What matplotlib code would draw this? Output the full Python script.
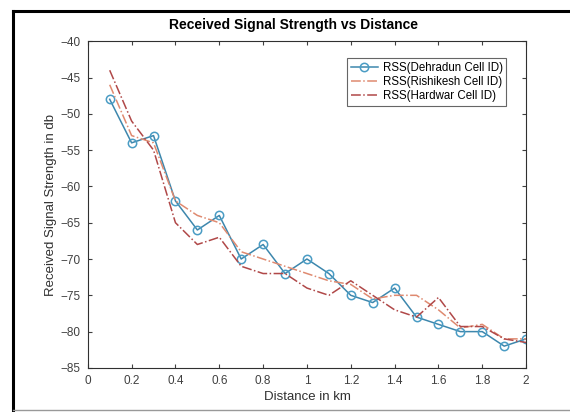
import matplotlib
matplotlib.use("Agg")
from matplotlib import pyplot as plt
from matplotlib.lines import Line2D

plt.rcParams['font.family'] = ['Liberation Sans', 'DejaVu Sans']

# distance (km) and received signal strength (db) per cell
distance = [0.1, 0.2, 0.3, 0.4, 0.5, 0.6, 0.7, 0.8, 0.9, 1.0,
            1.1, 1.2, 1.3, 1.4, 1.5, 1.6, 1.7, 1.8, 1.9, 2.0]
rss_dehradun = [-48, -54, -53, -62, -66, -64, -70, -68, -72, -70,
                -72, -75, -76, -74, -78, -79, -80, -80, -82, -81]
rss_rishikesh = [-46, -53, -54, -62, -64, -65, -69, -70, -71, -72,
                 -73, -73.5, -75.5, -75, -75, -77, -79.5, -79, -81, -81]
rss_hardwar = [-44, -51, -55, -65, -68, -67, -71, -72, -72, -74,
               -75, -73, -75, -77, -78, -75.3, -79.3, -79.3, -81, -81.5]

x_ticks = [0, 0.2, 0.4, 0.6, 0.8, 1, 1.2, 1.4, 1.6, 1.8, 2]
y_ticks = [-40, -45, -50, -55, -60, -65, -70, -75, -80, -85]

fig = plt.figure(figsize=(5.7, 4.12), dpi=100)
ax = fig.add_axes([0.154, 0.107, 0.769, 0.793])

ax.plot(distance, rss_dehradun, '-o', color='#3d87ad', lw=1.1, ms=6,
        mfc='none', mec='#4a9cc4', mew=1.1, label='RSS(Dehradun Cell ID)')
ax.plot(distance, rss_rishikesh, '-.', color='#df8a70', lw=1.1,
        label='RSS(Rishikesh Cell ID)')
ax.plot(distance, rss_hardwar, '-.', color='#b04848', lw=1.1,
        label='RSS(Hardwar Cell ID)')

ax.set_xlim(0, 2)
ax.set_ylim(-85, -40)
ax.set_xticks(x_ticks)
ax.set_xticklabels([str(t) for t in x_ticks])
ax.set_yticks(y_ticks)
ax.tick_params(direction='in', length=3, labelsize=8.5, colors='#404040',
               top=True, right=True, labeltop=False, labelright=False, pad=5)
for s in ax.spines.values():
    s.set_color('#303030')
    s.set_linewidth(0.8)

ax.set_title('Received Signal Strength vs Distance', fontsize=10,
             fontweight='bold', pad=9, x=0.47)
ax.set_xlabel('Distance in km', fontsize=9.5, color='#303030', labelpad=3)
ax.set_ylabel('Received Signal Strength in db', fontsize=9.5, color='#303030',
              labelpad=3)

leg = ax.legend(loc='upper right', bbox_to_anchor=(0.968, 0.965),
                fontsize=8.3, frameon=True, fancybox=False,
                handlelength=2.4, borderpad=0.3, labelspacing=0.2,
                handletextpad=0.4)
leg.get_frame().set_edgecolor('#404040')
leg.get_frame().set_linewidth(0.8)

# outer frame of the screenshot
fig.add_artist(Line2D([0.023, 0.023], [0.005, 0.973], color='black',
                      lw=2.2, transform=fig.transFigure))
fig.add_artist(Line2D([0.023, 1.0], [0.973, 0.973], color='black',
                      lw=2.2, transform=fig.transFigure))
fig.add_artist(Line2D([0.023, 1.0], [0.005, 0.005], color='#999999',
                      lw=1.0, transform=fig.transFigure))

fig.savefig('out.png', dpi=100)
